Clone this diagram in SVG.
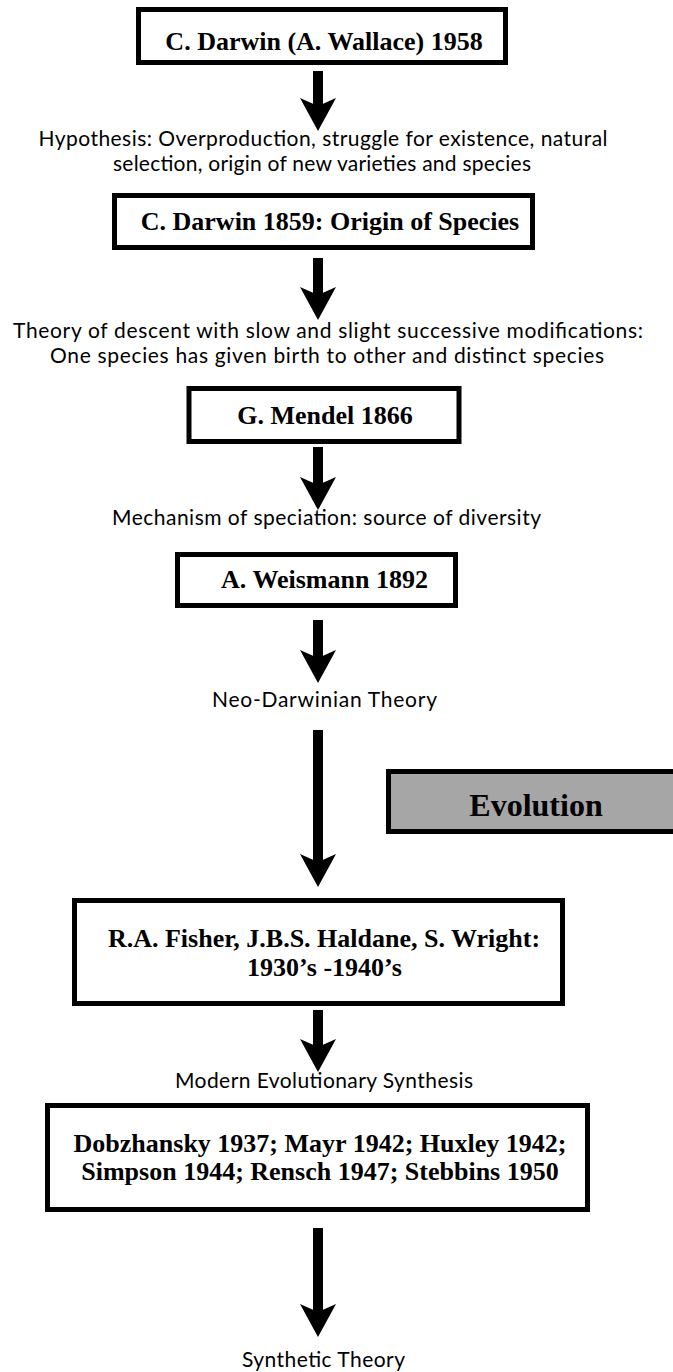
<svg xmlns="http://www.w3.org/2000/svg" width="673" height="1372" viewBox="0 0 673 1372">
<style>
.box{fill:#ffffff;stroke:#000000;stroke-width:5}
.grey{fill:#a6a6a6;stroke:#000000;stroke-width:5}
.t{font-family:"Liberation Serif","Times New Roman",serif;font-weight:bold;font-size:26px;fill:#000;text-anchor:middle}
.ev{font-size:32px}
.lbl{font-family:Lato,"Open Sans","Liberation Sans",sans-serif;font-size:21px;fill:#000;text-anchor:middle}
.arr{stroke:#000;stroke-width:10;fill:none;marker-end:url(#ah)}
</style>
<defs>
<marker id="ah" markerUnits="userSpaceOnUse" markerWidth="34" markerHeight="36" viewBox="0 0 34 36" refX="13" refY="18" orient="auto">
<path d="M0,0 L33,18 L0,36 L8,18 Z" fill="#000"/>
</marker>
</defs>
<rect width="673" height="1372" fill="#ffffff"/>
<g id="connectors">
<line class="arr" x1="318" y1="71" x2="318" y2="111"/>
<line class="arr" x1="318" y1="258" x2="318" y2="300"/>
<line class="arr" x1="318" y1="447" x2="318" y2="490"/>
<line class="arr" x1="318" y1="620" x2="318" y2="663"/>
<line class="arr" x1="318" y1="730" x2="318" y2="867"/>
<line class="arr" x1="318" y1="1010" x2="318" y2="1052"/>
<line class="arr" x1="318" y1="1228" x2="318" y2="1317"/>
</g>
<g id="labels">
<text class="lbl" x="323" y="146" textLength="569">Hypothesis: Overproduction, struggle for existence, natural</text>
<text class="lbl" x="322" y="171" textLength="418">selection, origin of new varieties and species</text>
<text class="lbl" x="328" y="338" textLength="630">Theory of descent with slow and slight successive modifications:</text>
<text class="lbl" x="327" y="363" textLength="554">One species has given birth to other and distinct species</text>
<text class="lbl" x="326.5" y="525" textLength="429">Mechanism of speciation: source of diversity</text>
<text class="lbl" x="324.5" y="707" textLength="225">Neo-Darwinian Theory</text>
<text class="lbl" x="324" y="1088" textLength="298">Modern Evolutionary Synthesis</text>
<text class="lbl" x="323.5" y="1367" textLength="163">Synthetic Theory</text>
</g>
<g id="darwin1958">
<rect class="box" x="138.5" y="9.5" width="367" height="53"/>
<text class="t" x="324" y="50">C. Darwin (A. Wallace) 1958</text>
</g>
<g id="darwin1859">
<rect class="box" x="114.5" y="195.5" width="418" height="52"/>
<text class="t" x="330" y="230">C. Darwin 1859: Origin of Species</text>
</g>
<g id="mendel">
<rect class="box" x="189" y="388.5" width="270" height="53"/>
<text class="t" x="325" y="424">G. Mendel 1866</text>
</g>
<g id="weismann">
<rect class="box" x="177.5" y="554.5" width="278" height="51"/>
<text class="t" x="324.5" y="588">A. Weismann 1892</text>
</g>
<g id="evolution">
<rect class="grey" x="388.5" y="771.5" width="310" height="60"/>
<text class="t ev" x="536" y="816">Evolution</text>
</g>
<g id="fisher">
<rect class="box" x="74.5" y="900.5" width="488" height="103"/>
<text class="t" x="324" y="947">R.A. Fisher, J.B.S. Haldane, S. Wright:</text>
<text class="t" x="324.5" y="976">1930’s -1940’s</text>
</g>
<g id="synthesis">
<rect class="box" x="47.5" y="1105.5" width="540" height="104"/>
<text class="t" x="320" y="1152">Dobzhansky 1937; Mayr 1942; Huxley 1942;</text>
<text class="t" x="320" y="1180">Simpson 1944; Rensch 1947; Stebbins 1950</text>
</g>
</svg>
